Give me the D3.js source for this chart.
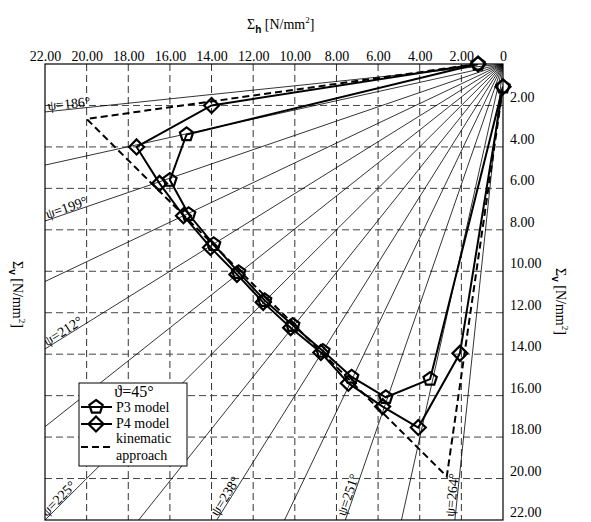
<!DOCTYPE html>
<html>
<head>
<meta charset="utf-8">
<script src="https://cdn.jsdelivr.net/npm/d3@7"></script>
<style>
  body { margin: 0; background: #fff; }
  svg text { font-family: 'Liberation Serif', 'Times New Roman', Times, 'DejaVu Serif', serif; fill: #000; }
</style>
</head>
<body>
<svg id="chart" width="591" height="522"></svg>
<script>
// axis ticks (N/mm2)
var hTicks = [22, 20, 18, 16, 14, 12, 10, 8, 6, 4, 2, 0];
var hTickLabels = ['22.00', '20.00', '18.00', '16.00', '14.00', '12.00', '10.00', '8.00', '6.00', '4.00', '2.00', '0'];
var vTicks = [2, 4, 6, 8, 10, 12, 14, 16, 18, 20, 22];
var vTickLabels = ['2.00', '4.00', '6.00', '8.00', '10.00', '12.00', '14.00', '16.00', '18.00', '20.00', '22.00'];

// radial load directions (degrees)
var psiLines = [186, 192.5, 199, 205.5, 212, 218.5, 225, 231.5, 238, 244.5, 251, 257.5, 264];
var psiLabels = [186, 199, 212, 225, 238, 251, 264];

// P3 model
var p3H = [1.2, 15.2, 16.0, 15.1, 13.9, 12.7, 11.45, 10.1, 8.65, 7.27, 5.63, 3.5, 0];
var p3V = [0, 3.4, 5.6, 7.25, 8.7, 10.05, 11.4, 12.6, 13.85, 15.1, 16.08, 15.2, 1.1];

// P4 model
var p4H = [1.2, 14.0, 17.6, 16.5, 15.35, 14.05, 12.78, 11.52, 10.2, 8.75, 7.43, 5.78, 4.07, 2.07, 0];
var p4V = [0, 2.0, 4.0, 5.76, 7.32, 8.85, 10.15, 11.5, 12.72, 13.92, 15.4, 16.53, 17.54, 13.96, 1.1];

// kinematic approach
var kinH = [1.2, 20.0, 2.7, 0];
var kinV = [0, 2.65, 19.9, 1.1];

var FONT = "'Liberation Serif', 'Times New Roman', Times, 'DejaVu Serif', serif";

var svg = d3.select('#chart');

var x = d3.scaleLinear().domain([22, 0]).range([45, 503]);
var y = d3.scaleLinear().domain([0, 22]).range([64, 520]);

// clip for the plot area
svg.append('clipPath').attr('id', 'plotclip')
  .append('rect')
  .attr('x', 45).attr('y', 64)
  .attr('width', 458).attr('height', 456);

var plot = svg.append('g').attr('clip-path', 'url(#plotclip)');

// dashed grid
plot.selectAll('.gx')
  .data(hTicks.filter(function(d) { return d > 0 && d < 22; }))
  .enter().append('line')
  .attr('x1', function(d) { return x(d); })
  .attr('x2', function(d) { return x(d); })
  .attr('y1', y(0)).attr('y2', y(22))
  .attr('stroke', '#333').attr('stroke-width', 1)
  .attr('stroke-dasharray', '7,4');

plot.selectAll('.gy')
  .data(vTicks.filter(function(d) { return d < 22; }))
  .enter().append('line')
  .attr('y1', function(d) { return y(d); })
  .attr('y2', function(d) { return y(d); })
  .attr('x1', x(22)).attr('x2', x(0))
  .attr('stroke', '#444').attr('stroke-width', 1)
  .attr('stroke-dasharray', '7,4');

// end of a ray at the border of the plot
function rayEnd(psi) {
  var t = (psi - 180) * Math.PI / 180;
  var r = Math.min(22 / Math.cos(t), 22 / Math.sin(t));
  return [r * Math.cos(t), r * Math.sin(t)];
}

plot.selectAll('.ray')
  .data(psiLines)
  .enter().append('line')
  .attr('x1', x(0)).attr('y1', y(0))
  .attr('x2', function(d) { return x(rayEnd(d)[0]); })
  .attr('y2', function(d) { return y(rayEnd(d)[1]); })
  .attr('stroke', '#000').attr('stroke-width', 0.8);

// psi labels along the rays, near the outer end
plot.selectAll('.psi')
  .data(psiLabels)
  .enter().append('text')
  .attr('transform', function(d) {
    var e = rayEnd(d);
    var t = (d - 180);
    var px = x(e[0]), py = y(e[1]);
    var a = t * Math.PI / 180;
    px += 3 * Math.cos(a);
    py -= 3 * Math.sin(a);
    return 'translate(' + px + ',' + py + ') rotate(' + (-t) + ')';
  })
  .attr('dy', -1)
  .style('font-family', FONT)
  .style('font-size', '14px')
  .text(function(d) { return '\u03c8=' + d + '\u00b0'; });

// series lines
var line = d3.line()
  .x(function(d) { return x(d[0]); })
  .y(function(d) { return y(d[1]); });

function pairs(h, v) { return h.map(function(d, i) { return [d, v[i]]; }); }

var p3 = pairs(p3H, p3V), p4 = pairs(p4H, p4V), kin = pairs(kinH, kinV);

plot.append('path').datum(kin)
  .attr('fill', 'none').attr('stroke', '#000')
  .attr('stroke-width', 2).attr('stroke-dasharray', '7,4')
  .attr('d', line);

plot.append('path').datum(p3)
  .attr('fill', 'none').attr('stroke', '#000')
  .attr('stroke-width', 2).attr('d', line);

plot.append('path').datum(p4)
  .attr('fill', 'none').attr('stroke', '#000')
  .attr('stroke-width', 2).attr('d', line);

// marker shapes
function pentagon(r) {
  var pts = [];
  for (var k = 0; k < 5; k++) {
    var a = -Math.PI / 2 + k * 2 * Math.PI / 5;
    pts.push([r * Math.cos(a), r * Math.sin(a)]);
  }
  return 'M' + pts.join('L') + 'Z';
}
function diamond(r) {
  return 'M0,' + (-r) + 'L' + r + ',0L0,' + r + 'L' + (-r) + ',0Z';
}

svg.selectAll('.m3')
  .data(p3)
  .enter().append('path')
  .attr('transform', function(d) { return 'translate(' + x(d[0]) + ',' + y(d[1]) + ')'; })
  .attr('d', pentagon(7))
  .attr('fill', 'none').attr('stroke', '#000').attr('stroke-width', 2.2);

svg.selectAll('.m4')
  .data(p4)
  .enter().append('path')
  .attr('transform', function(d) { return 'translate(' + x(d[0]) + ',' + y(d[1]) + ')'; })
  .attr('d', diamond(7.5))
  .attr('fill', 'none').attr('stroke', '#000').attr('stroke-width', 2.2);

// plot border
svg.append('rect')
  .attr('x', 45).attr('y', 64)
  .attr('width', 458).attr('height', 456)
  .attr('fill', 'none').attr('stroke', '#000').attr('stroke-width', 1.2);

// axes
var topAxis = svg.append('g')
  .attr('transform', 'translate(0,64)')
  .call(d3.axisTop(x).tickValues(hTicks).tickSize(0).tickPadding(3)
    .tickFormat(function(d, i) { return hTickLabels[i]; }));
topAxis.attr('font-family', null);
topAxis.select('.domain').remove();
topAxis.selectAll('text')
  .style('font-family', FONT)
  .style('font-size', '14px').attr('fill', '#000');

var rightAxis = svg.append('g')
  .attr('transform', 'translate(503,0)')
  .call(d3.axisRight(y).tickValues(vTicks).tickSize(0).tickPadding(7)
    .tickFormat(function(d, i) { return vTickLabels[i]; }));
rightAxis.attr('font-family', null);
rightAxis.select('.domain').remove();
rightAxis.selectAll('text')
  .attr('y', -8)
  .style('font-family', FONT)
  .style('font-size', '14px').attr('fill', '#000');

// axis titles
function sigmaTitle(g, sub) {
  var t = g.append('text').style('font-family', FONT).style('font-size', '14px');
  t.append('tspan').text('\u03a3');
  t.append('tspan').attr('dy', 4)
    .style('font-family', "'Liberation Sans', Arial, sans-serif")
    .style('font-weight', 'bold').style('font-size', '10px').text(sub);
  t.append('tspan').attr('dy', -4).text(' [N/mm');
  t.append('tspan').attr('dy', -6).style('font-size', '9px').text('2');
  t.append('tspan').attr('dy', 6).text(']');
  return t;
}

sigmaTitle(svg.append('g').attr('transform', 'translate(247,29)'), 'h');
sigmaTitle(svg.append('g').attr('transform', 'translate(13,261) rotate(90)'), 'v');
sigmaTitle(svg.append('g').attr('transform', 'translate(556,268) rotate(90)'), 'v');

// legend
var leg = svg.append('g');
leg.append('rect')
  .attr('x', 79).attr('y', 383).attr('width', 108).attr('height', 83)
  .attr('fill', '#fff').attr('stroke', '#000').attr('stroke-width', 1);
leg.append('text').attr('x', 134).attr('y', 397)
  .attr('text-anchor', 'middle')
  .style('font-family', FONT).style('font-size', '16px')
  .text('\u03d1=45\u00b0');

var legItems = [
  { y: 407, shape: pentagon(7), dash: null },
  { y: 424, shape: diamond(7.5), dash: null },
  { y: 447, shape: null, dash: '7,4' }
];
legItems.forEach(function(it) {
  leg.append('line')
    .attr('x1', 81).attr('x2', 112).attr('y1', it.y).attr('y2', it.y)
    .attr('stroke', '#000').attr('stroke-width', 2)
    .attr('stroke-dasharray', it.dash);
  if (it.shape) {
    leg.append('path').attr('d', it.shape)
      .attr('transform', 'translate(96,' + it.y + ')')
      .attr('fill', 'none').attr('stroke', '#000').attr('stroke-width', 2.2);
  }
});
var legText = [['P3 model', 412], ['P4 model', 428], ['kinematic', 443], ['approach', 460]];
legText.forEach(function(t) {
  leg.append('text').attr('x', 116).attr('y', t[1])
    .style('font-family', FONT)
    .style('font-size', '14px').text(t[0]);
});
</script>
</body>
</html>
